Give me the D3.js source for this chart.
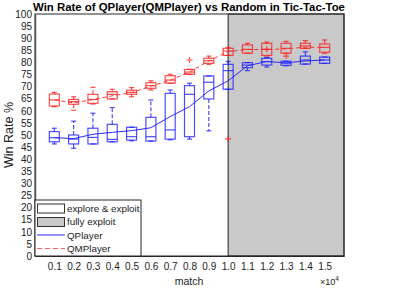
<!DOCTYPE html>
<html>
<head>
<meta charset="utf-8">
<script src="https://cdn.jsdelivr.net/npm/d3@7"></script>
<style>
  body { margin: 0; background: #fff; }
  svg { font-family: "Liberation Sans", Arial, sans-serif; }
</style>
</head>
<body>
<div id="chart"></div>
<script>
// match (x 10^4)
let matches = [0.1, 0.2, 0.3, 0.4, 0.5, 0.6, 0.7, 0.8, 0.9, 1.0, 1.1, 1.2, 1.3, 1.4, 1.5];
let yTicks = d3.range(0, 101, 5);

// QPlayer box stats
let qLow  = [46.3, 44.5, 46.3, 47.2, 47.6, 47.5, 48.0, 48.3, 51.7, 68.9, 76.6, 78.1, 78.6, 79.3, 79.6];
let qQ1   = [47.2, 46.3, 46.3, 47.2, 47.9, 47.5, 48.3, 49.3, 64.9, 68.9, 77.8, 78.9, 78.8, 79.3, 79.6];
let qMed  = [48.9, 48.3, 49.0, 48.2, 49.3, 49.3, 52.1, 66.8, 71.8, 76.6, 78.9, 80.3, 79.7, 81.0, 81.0];
let qQ3   = [51.4, 50.0, 52.8, 54.4, 53.2, 57.3, 67.2, 70.4, 74.4, 79.2, 79.9, 81.7, 80.5, 82.6, 82.2];
let qHigh = [52.8, 55.7, 59.0, 61.3, 53.2, 64.5, 68.6, 71.4, 74.4, 80.4, 79.9, 82.0, 80.5, 84.4, 82.2];
let qMean = [48.9, 48.5, 50.3, 51.1, 51.8, 53.0, 57.6, 61.7, 68.2, 72.4, 78.6, 80.4, 79.8, 80.6, 81.0];

// QMPlayer box stats
let mLow  = [61.7, 60.2, 62.8, 64.9, 65.8, 68.6, 71.4, 75.1, 79.2, 82.9, 83.8, 82.6, 83.8, 85.8, 83.8];
let mQ1   = [62.0, 62.7, 63.1, 64.9, 66.8, 69.3, 71.4, 75.1, 79.6, 82.9, 83.8, 82.9, 83.8, 85.8, 84.2];
let mMed  = [64.5, 63.8, 64.7, 66.8, 67.6, 70.4, 72.7, 76.0, 80.7, 84.7, 85.4, 85.4, 85.8, 86.8, 86.2];
let mQ3   = [66.9, 64.7, 66.8, 67.9, 68.5, 71.6, 74.5, 77.1, 81.7, 85.8, 87.2, 87.9, 87.9, 87.9, 87.6];
let mHigh = [67.6, 65.8, 69.7, 68.9, 69.6, 72.4, 75.1, 77.1, 82.6, 86.2, 87.9, 88.4, 88.7, 89.0, 89.3];
let mMean = [64.5, 63.3, 64.6, 66.2, 67.5, 70.2, 72.6, 76.0, 80.6, 84.5, 85.3, 85.3, 85.6, 86.3, 86.1];

// outliers: [match, value]
let qOut = [];
let mOut = [[0.8, 81.0], [1.0, 48.4], [1.2, 85.4], [1.3, 82.6]];

let W = 398, H = 294;
let margin = {top: 14, right: 54, bottom: 38, left: 35};
let width = W - margin.left - margin.right,
    height = H - margin.top - margin.bottom;

let svg = d3.select("#chart").append("svg")
    .attr("width", W).attr("height", H);
let g = svg.append("g")
    .attr("transform", "translate(" + margin.left + "," + margin.top + ")");

let x = d3.scaleLinear().domain([0, 1.6]).range([0, width]);
let y = d3.scaleLinear().domain([0, 100]).range([height, 0]);

// shaded "fully exploit" region
g.append("rect")
  .attr("x", x(1.0)).attr("y", 0)
  .attr("width", x(1.6) - x(1.0)).attr("height", height)
  .attr("fill", "#c9c9c9")
  .attr("stroke", "#222").attr("stroke-width", 1);

// axes frame
g.append("rect")
  .attr("x", 0).attr("y", 0).attr("width", width).attr("height", height)
  .attr("fill", "none").attr("stroke", "#262626").attr("stroke-width", 1);

let yAxis = g.append("g")
  .call(d3.axisLeft(y).tickValues(yTicks).tickSize(0).tickPadding(3));
yAxis.select(".domain").attr("stroke", "#555").attr("stroke-width", 1.5);
yAxis.selectAll("text").attr("font-size", "10px").attr("fill", "#222")
  .attr("font-family", "Liberation Sans, Arial, sans-serif");

let xAxis = g.append("g")
  .attr("transform", "translate(0," + height + ")")
  .call(d3.axisBottom(x).tickValues(matches).tickSize(0).tickPadding(7)
    .tickFormat(d3.format(".1f")));
xAxis.select(".domain").attr("stroke", "#262626");
xAxis.selectAll("text").attr("font-size", "10px").attr("fill", "#222")
  .attr("font-family", "Liberation Sans, Arial, sans-serif");

// labels
svg.append("text")
  .attr("x", 189).attr("y", 10.5)
  .attr("text-anchor", "middle")
  .attr("font-size", "11.4px").attr("font-weight", "bold")
  .text("Win Rate of QPlayer(QMPlayer) vs Random in Tic-Tac-Toe");

svg.append("text")
  .attr("x", 189).attr("y", 285)
  .attr("text-anchor", "middle")
  .attr("font-size", "10.5px").attr("fill", "#222")
  .text("match");

let mult = svg.append("text")
  .attr("x", 320).attr("y", 285)
  .attr("font-size", "9px").attr("fill", "#222");
mult.append("tspan").text("\u00d710");
mult.append("tspan").attr("dy", -4).attr("font-size", "6.5px").text("4");

svg.append("text")
  .attr("transform", "translate(13," + (margin.top + height / 2) + ") rotate(-90)")
  .attr("text-anchor", "middle")
  .attr("font-size", "12.5px").attr("fill", "#222")
  .text("Win Rate %");

// boxplots
function drawBoxes(low, q1, med, q3, high, outs, color) {
  let bw = 10, cap = 5;
  let bg = g.append("g").attr("stroke", color).attr("fill", "none")
    .attr("stroke-width", 1.2).attr("stroke-opacity", 0.8);
  matches.forEach(function (m, i) {
    let cx = x(m);
    bg.append("line").attr("x1", cx).attr("x2", cx)
      .attr("y1", y(q3[i])).attr("y2", y(high[i])).attr("stroke-dasharray", "4,2");
    bg.append("line").attr("x1", cx).attr("x2", cx)
      .attr("y1", y(q1[i])).attr("y2", y(low[i])).attr("stroke-dasharray", "4,2");
    bg.append("line").attr("x1", cx - cap / 2).attr("x2", cx + cap / 2)
      .attr("y1", y(high[i])).attr("y2", y(high[i]));
    bg.append("line").attr("x1", cx - cap / 2).attr("x2", cx + cap / 2)
      .attr("y1", y(low[i])).attr("y2", y(low[i]));
    bg.append("rect").attr("x", cx - bw / 2).attr("y", y(q3[i]))
      .attr("width", bw).attr("height", Math.max(1, y(q1[i]) - y(q3[i])));
    bg.append("line").attr("x1", cx - bw / 2).attr("x2", cx + bw / 2)
      .attr("y1", y(med[i])).attr("y2", y(med[i]));
  });
  outs.forEach(function (o) {
    let cx = x(o[0]), cy = y(o[1]);
    bg.append("path").attr("d", "M" + (cx - 3) + "," + cy + "H" + (cx + 3) +
      "M" + cx + "," + (cy - 3) + "V" + (cy + 3));
  });
}

drawBoxes(mLow, mQ1, mMed, mQ3, mHigh, mOut, "#ff2020");
drawBoxes(qLow, qQ1, qMed, qQ3, qHigh, qOut, "#2020ff");

let line = d3.line().x(function (d, i) { return x(matches[i]); }).y(function (d) { return y(d); });

g.append("path").attr("d", line(qMean))
  .attr("fill", "none").attr("stroke", "#2a2aff").attr("stroke-width", 1);
g.append("path").attr("d", line(mMean))
  .attr("fill", "none").attr("stroke", "#ff3030").attr("stroke-width", 1)
  .attr("stroke-dasharray", "4,3");

// legend
let leg = g.append("g").attr("transform", "translate(0," + (height - 56) + ")");
leg.append("rect").attr("x", 0).attr("y", 0).attr("width", 106).attr("height", 56)
  .attr("fill", "#fff").attr("stroke", "#262626");
let items = [
  {label: "explore & exploit", type: "box", fill: "#fff"},
  {label: "fully exploit", type: "box", fill: "#c9c9c9"},
  {label: "QPlayer", type: "line", color: "#2a2aff", dash: null},
  {label: "QMPlayer", type: "line", color: "#ff6060", dash: "5,3"}
];
items.forEach(function (it, i) {
  let cy = 8 + i * 13.5;
  if (it.type == "box") {
    leg.append("rect").attr("x", 2.5).attr("y", cy - 4).attr("width", 27).attr("height", 9)
      .attr("fill", it.fill).attr("stroke", "#333");
  } else {
    leg.append("line").attr("x1", 2).attr("x2", 30).attr("y1", cy).attr("y2", cy)
      .attr("stroke", it.color).attr("stroke-width", 1)
      .attr("stroke-dasharray", it.dash);
  }
  leg.append("text").attr("x", 32).attr("y", cy + 3.5)
    .attr("font-size", "9.8px").attr("fill", "#222").text(it.label);
});
</script>
</body>
</html>
